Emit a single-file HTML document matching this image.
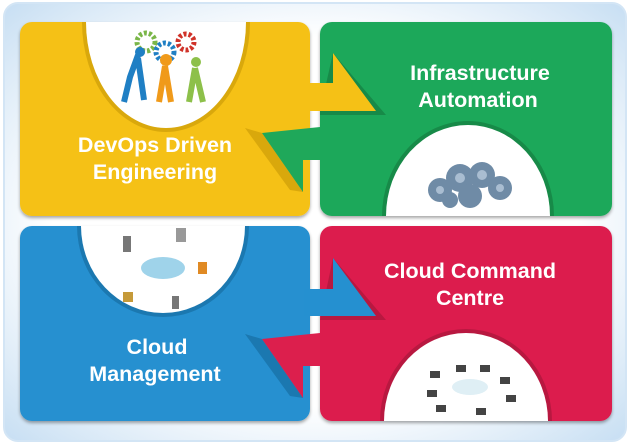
<!DOCTYPE html>
<html><head><style>
html,body{margin:0;padding:0;background:#fff;width:630px;height:446px;overflow:hidden}
svg{display:block}
text{font-family:"Liberation Sans",Arial,sans-serif;font-weight:bold;fill:#fff;font-size:21.5px;text-anchor:middle}
</style></head><body>
<svg width="630" height="446" viewBox="0 0 630 446" xmlns="http://www.w3.org/2000/svg">
<defs>
<radialGradient id="bg" cx="50%" cy="50%" r="70%">
<stop offset="0.6" stop-color="#ffffff"/><stop offset="1" stop-color="#c8dff3"/>
</radialGradient>
<filter id="sh" x="-5%" y="-5%" width="110%" height="115%"><feDropShadow dx="0" dy="2" stdDeviation="1.5" flood-color="#000" flood-opacity="0.35"/></filter>
<clipPath id="cy"><rect x="20" y="22" width="290" height="194" rx="12"/></clipPath>
<clipPath id="cg"><rect x="320" y="22" width="292" height="194" rx="12"/></clipPath>
<clipPath id="cb"><rect x="20" y="226" width="290" height="195" rx="12"/></clipPath>
<clipPath id="cr"><rect x="320" y="226" width="292" height="195" rx="12"/></clipPath>
</defs>
<rect x="4" y="3" width="622" height="438" rx="14" fill="url(#bg)" stroke="#d3e5f5" stroke-width="2"/>

<rect x="20" y="22" width="290" height="194" rx="12" fill="#f5c116" filter="url(#sh)"/>
<g clip-path="url(#cy)">
<ellipse cx="166" cy="22" rx="84" ry="110" fill="#d9a80c"/>
<ellipse cx="166" cy="22" rx="80" ry="106" fill="#fff"/>
<polygon points="245,128 262,133 303,192 290,190" fill="#d9a80c"/>
</g>
<rect x="320" y="22" width="292" height="194" rx="12" fill="#1fa85a" filter="url(#sh)"/>
<g clip-path="url(#cg)">
<polygon points="333,53 386,115 376,115 320,115 320,111" fill="#178a48"/>
<ellipse cx="468" cy="216" rx="86" ry="95" fill="#178a48"/>
<ellipse cx="468" cy="216" rx="82" ry="91" fill="#fff"/>
</g>
<polygon points="304,83 333,83 333,53 376,111 304,111" fill="#f5c116"/>
<polygon points="262,133 320,127 320,160 303,160 303,192" fill="#1fa85a"/>

<rect x="20" y="226" width="290" height="195" rx="12" fill="#2590d0" filter="url(#sh)"/>
<g clip-path="url(#cb)">
<ellipse cx="163" cy="226" rx="86" ry="91" fill="#1b78b0"/>
<ellipse cx="163" cy="226" rx="82" ry="87" fill="#fff"/>
<polygon points="245,334 262,339 303,398 290,396" fill="#1b78b0"/>
</g>
<rect x="320" y="226" width="292" height="195" rx="12" fill="#dc1f4d" filter="url(#sh)"/>
<g clip-path="url(#cr)">
<polygon points="333,258 386,320 320,320" fill="#b81840"/>
<ellipse cx="466" cy="421" rx="86" ry="92" fill="#b81840"/>
<ellipse cx="466" cy="421" rx="82" ry="88" fill="#fff"/>
</g>
<polygon points="304,289 333,289 333,258 376,316 304,316" fill="#2590d0"/>
<polygon points="262,339 320,333 320,366 303,366 303,398" fill="#dc1f4d"/>

<g>
<circle cx="146" cy="42" r="9" fill="none" stroke="#7ab648" stroke-width="5" stroke-dasharray="3 2"/>
<circle cx="165" cy="52" r="9" fill="none" stroke="#1f7fc4" stroke-width="5" stroke-dasharray="3 2"/>
<circle cx="186" cy="42" r="8" fill="none" stroke="#d0332a" stroke-width="5" stroke-dasharray="3 2"/>
<path d="M138 55 l-8 22 l-6 25 M138 58 l6 42" stroke="#1f7fc4" stroke-width="6" fill="none"/>
<circle cx="140" cy="52" r="5" fill="#1f7fc4"/>
<path d="M165 66 l-6 36 M165 66 l6 36" stroke="#f09a1a" stroke-width="6" fill="none"/>
<circle cx="166" cy="60" r="6" fill="#f09a1a"/>
<path d="M195 68 l-6 34 M195 68 l8 34" stroke="#8dc04a" stroke-width="6" fill="none"/>
<circle cx="196" cy="62" r="5" fill="#8dc04a"/>
</g>
<g fill="#6f8ba6">
<circle cx="440" cy="190" r="12"/><circle cx="460" cy="178" r="14"/><circle cx="482" cy="175" r="13"/>
<circle cx="500" cy="188" r="12"/><circle cx="470" cy="196" r="12"/><circle cx="450" cy="200" r="8"/>
</g>
<g fill="#a9bdd1"><circle cx="460" cy="178" r="5"/><circle cx="482" cy="175" r="5"/><circle cx="440" cy="190" r="4"/><circle cx="500" cy="188" r="4"/></g>
<ellipse cx="163" cy="268" rx="22" ry="11" fill="#9fd3ea"/>
<rect x="123" y="236" width="8" height="16" fill="#777"/>
<rect x="176" y="228" width="10" height="14" fill="#999"/>
<rect x="198" y="262" width="9" height="12" fill="#e08a24"/>
<rect x="123" y="292" width="10" height="10" fill="#c59a3a"/>
<rect x="172" y="296" width="7" height="13" fill="#777"/>
<ellipse cx="470" cy="387" rx="18" ry="8" fill="#dfeff5"/>
<g fill="#444">
<rect x="430" y="371" width="10" height="7"/><rect x="456" y="365" width="10" height="7"/><rect x="480" y="365" width="10" height="7"/>
<rect x="500" y="377" width="10" height="7"/><rect x="506" y="395" width="10" height="7"/><rect x="427" y="390" width="10" height="7"/>
<rect x="436" y="405" width="10" height="7"/><rect x="476" y="408" width="10" height="7"/>
</g>

<text x="155" y="152">DevOps Driven</text>
<text x="155" y="179">Engineering</text>
<text x="480" y="80">Infrastructure</text>
<text x="478" y="107">Automation</text>
<text x="157" y="354">Cloud</text>
<text x="155" y="381">Management</text>
<text x="470" y="278">Cloud Command</text>
<text x="470" y="305">Centre</text>
</svg>
</body></html>
